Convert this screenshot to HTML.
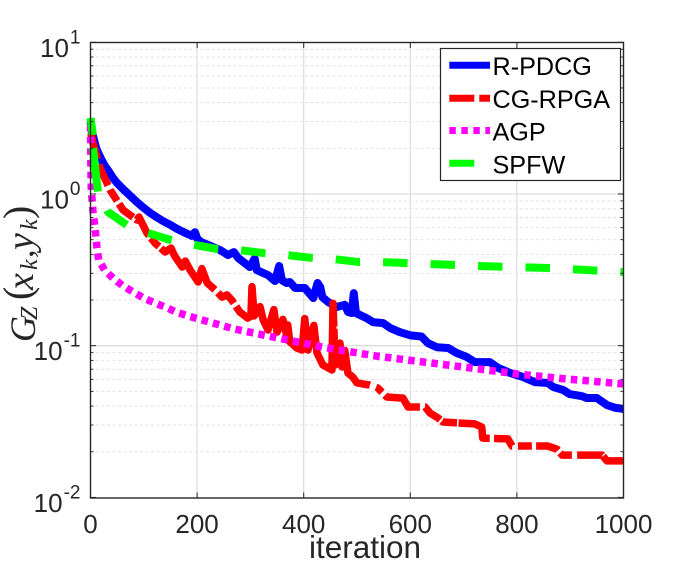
<!DOCTYPE html>
<html lang="en">
<head>
<meta charset="utf-8">
<title>Convergence chart</title>
<style>
html,body{margin:0;padding:0;background:#fff;width:689px;height:561px;overflow:hidden}
svg{display:block;font-family:"Liberation Sans",sans-serif}
</style>
</head>
<body>
<svg id="chart" width="689" height="561" viewBox="0 0 689 561" xmlns="http://www.w3.org/2000/svg">
  <rect x="0" y="0" width="689" height="561" fill="#fff"/>
  <g id="grid"></g>
  <g id="series"></g>
  <rect x="90.5" y="42.5" width="533" height="455.5" fill="none" stroke="#262626" stroke-width="1.4"/>
  <g id="ticks"></g>
  <g id="xlabels" font-size="26" fill="#262626" text-anchor="middle"></g>
  <g id="ylabels" font-size="26" fill="#262626" text-anchor="end"></g>
  <text x="365" y="558" font-size="31.5" fill="#262626" text-anchor="middle">iteration</text>
  <g transform="translate(33,345) rotate(-90)" fill="#262626" font-family="'Liberation Serif',serif" font-style="italic">
    <text x="3" y="2" font-size="36">G</text>
    <text x="25" y="4" font-size="24">Z</text>
    <text x="45" y="-2" font-size="40" font-style="normal">(</text>
    <text x="55" y="0" font-size="38">x</text>
    <text x="75" y="4" font-size="24">k</text>
    <text x="87" y="0" font-size="34" font-style="normal">,</text>
    <text x="95" y="0" font-size="38">y</text>
    <text x="115" y="4" font-size="24">k</text>
    <text x="126" y="-2" font-size="40" font-style="normal">)</text>
  </g>
  <g>
    <rect x="440.5" y="48.5" width="180" height="132" fill="#fff" stroke="#262626" stroke-width="1.2"/>
    <g>
      <line x1="449.3" y1="65.3" x2="490" y2="65.3" stroke="#0000ff" stroke-width="7"/>
      <text x="492.5" y="75" font-size="25.2" fill="#000">R-PDCG</text>
    </g>
    <g>
      <line x1="449.3" y1="98.3" x2="490" y2="98.3" stroke="#ff0000" stroke-width="7" stroke-dasharray="25 5"/>
      <text x="492.5" y="107.8" font-size="25.2" fill="#000">CG-RPGA</text>
    </g>
    <g>
      <line x1="449.3" y1="130.5" x2="490" y2="130.5" stroke="#ff00ff" stroke-width="7" stroke-dasharray="6.5 5.5"/>
      <text x="492.5" y="140.7" font-size="25.2" fill="#000">AGP</text>
    </g>
    <g>
      <line x1="449.3" y1="163.3" x2="490" y2="163.3" stroke="#00ff00" stroke-width="7" stroke-dasharray="25 23"/>
      <text x="492.5" y="173.3" font-size="25.2" fill="#000">SPFW</text>
    </g>
  </g>
</svg>
<script>
const xTickValues = [0, 200, 400, 600, 800, 1000];
const yDecadeExponents = [1, 0, -1, -2];
const yMinorMultipliers = [2, 3, 4, 5, 6, 7, 8, 9];

const bluePdcgIter = [0,3,10,15,20,27,35,42,50,62,75,87,100,112,125,137,150,162,175,190,196,200,207,225,243,258,269,277,299,308,312,333,346,354,359,368,374,384,402,418,426,431,435,446,462,477,483,490,494,498,518,530,549,562,580,600,621,633,650,671,687,706,721,749,765,787,811,834,858,868,887,899,922,931,950,969,984,1000];
const bluePdcgVal = [3.0,2.55,2.04,1.85,1.7,1.53,1.4,1.28,1.18,1.07,0.97,0.885,0.81,0.75,0.7,0.66,0.625,0.59,0.56,0.53,0.56,0.51,0.483,0.455,0.427,0.396,0.414,0.379,0.33,0.375,0.315,0.292,0.267,0.335,0.27,0.259,0.263,0.24,0.24,0.206,0.259,0.244,0.209,0.194,0.18,0.186,0.167,0.164,0.222,0.164,0.152,0.143,0.141,0.131,0.123,0.117,0.115,0.104,0.0976,0.0966,0.0895,0.0843,0.078,0.078,0.0713,0.0662,0.0622,0.0575,0.0568,0.0535,0.051,0.048,0.0465,0.0452,0.0452,0.0406,0.039,0.0383];

const redRpgaIter = [1,4,18,37,61,87,91,106,121,140,151,158,172,178,187,202,209,219,234,247,256,265,280,295,301,303,307,312,318,324,333,344,350,361,367,370,374,387,397,402,408,419,425,436,453,455,459,462,468,472,477,483,492,500,524,539,556,581,586,596,628,637,652,661,721,734,736,783,791,858,875,885,960,969,1000];
const redRpgaVal = [2.52,2.2,1.48,1.06,0.785,0.674,0.705,0.553,0.475,0.415,0.44,0.39,0.33,0.361,0.315,0.263,0.322,0.259,0.233,0.209,0.216,0.2,0.167,0.152,0.157,0.245,0.157,0.167,0.181,0.148,0.127,0.173,0.123,0.149,0.121,0.137,0.106,0.0966,0.0937,0.151,0.0937,0.136,0.0895,0.0746,0.0692,0.19,0.0746,0.096,0.104,0.0724,0.093,0.066,0.0622,0.0568,0.055,0.0526,0.0459,0.0452,0.0452,0.0394,0.0394,0.036,0.0334,0.0314,0.0305,0.0291,0.0246,0.0243,0.0218,0.0218,0.0208,0.019,0.019,0.0174,0.0174];

const magentaAgpIter = [0,0.5,1.5,3,4.7,7.9,10.3,12.2,15.4,26.6,42,61,80,100,121,140,160,183,269,359,444,536,624,714,802,894,1000];
const magentaAgpVal = [2.85,1.68,1.06,0.913,0.76,0.625,0.521,0.44,0.367,0.315,0.279,0.248,0.226,0.206,0.191,0.18,0.167,0.157,0.129,0.111,0.0966,0.0855,0.0781,0.0713,0.065,0.0603,0.056];

const greenSpfwIter = [0,4,5,14,33,68,108,151,187,237,279,325,367,416,455,504,545,731,862,1000];
const greenSpfwVal = [3.17,2.52,1.95,1.03,0.76,0.625,0.553,0.497,0.468,0.434,0.427,0.408,0.396,0.379,0.373,0.356,0.356,0.335,0.325,0.306];

const NS = 'http://www.w3.org/2000/svg';
const xScale = function (iter) { return 90.5 + iter * 0.533; };
const yScale = function (v) { return 194 - 151.7 * Math.log10(v); };

function pathFrom(xs, ys) {
  return xs.map(function (x, i) {
    return (i ? 'L' : 'M') + xScale(x).toFixed(2) + ' ' + yScale(ys[i]).toFixed(2);
  }).join(' ');
}

function makeLine(parent, x1, y1, x2, y2, stroke, width, dash) {
  const el = document.createElementNS(NS, 'line');
  el.setAttribute('x1', x1);
  el.setAttribute('y1', y1);
  el.setAttribute('x2', x2);
  el.setAttribute('y2', y2);
  el.setAttribute('stroke', stroke);
  el.setAttribute('stroke-width', width);
  if (dash) el.setAttribute('stroke-dasharray', dash);
  parent.appendChild(el);
  return el;
}

const gridG = document.getElementById('grid');
const ticksG = document.getElementById('ticks');
const xLabelG = document.getElementById('xlabels');
const yLabelG = document.getElementById('ylabels');

xTickValues.forEach(function (t) {
  const x = xScale(t);
  if (t > 0 && t < 1000) {
    const g = makeLine(gridG, x, 42.5, x, 498, '#dedede', 1.3);
    
    
  }
  const tb = makeLine(ticksG, x, 498, x, 492.5, '#262626', 1);
  
  
  const tt = makeLine(ticksG, x, 42.5, x, 48, '#262626', 1);
  
  
  const label = document.createElementNS(NS, 'text');
  
  
  label.setAttribute('x', x);
  label.setAttribute('y', 533);
  label.textContent = String(t);
  xLabelG.appendChild(label);
});

yDecadeExponents.forEach(function (e) {
  const y = yScale(Math.pow(10, e));
  if (e < 1 && e > -2) {
    const g = makeLine(gridG, 90.5, y, 623.5, y, '#dedede', 1.3);
    
    
  }
  const tl = makeLine(ticksG, 90.5, y, 96, y, '#262626', 1);
  
  
  const tr = makeLine(ticksG, 623.5, y, 618, y, '#262626', 1);
  
  

  const label = document.createElementNS(NS, 'text');
  
  
  label.setAttribute('x', 80.5);
  label.setAttribute('y', y + 14.5);
  const base = document.createElementNS(NS, 'tspan');
  base.textContent = '10';
  const sup = document.createElementNS(NS, 'tspan');
  sup.setAttribute('font-size', '19');
  sup.setAttribute('dy', '-13.5');
  sup.setAttribute('dx', '1');
  sup.textContent = String(e);
  label.appendChild(base);
  label.appendChild(sup);
  yLabelG.appendChild(label);

  if (e > -2) {
    yMinorMultipliers.forEach(function (m) {
      const my = yScale(m * Math.pow(10, e - 1));
      const mg = makeLine(gridG, 90.5, my, 623.5, my, '#e2e2e2', 1, '3 2.5');
      
      
      const ml = makeLine(ticksG, 90.5, my, 93.5, my, '#262626', 0.9);
      
      
      const mr = makeLine(ticksG, 623.5, my, 620.5, my, '#262626', 0.9);
      
      
    });
  }
});

const seriesG = document.getElementById('series');

function greenDash() {
  const parts = [17, 13, 44, 21];
  for (let i = 0; i < 16; i++) parts.push(24.5, 23);
  return parts.join(' ');
}

/* The red curve's dash gaps fall unevenly along its jagged path, so its
   dash pattern is measured from the path at the iterations where it breaks. */
function dashFromBreaks(path, breaks) {
  const total = path.getTotalLength();
  const lengthAtIter = function (iter) {
    const targetX = xScale(iter);
    let lo = 0;
    let hi = total;
    for (let k = 0; k < 30; k++) {
      const mid = (lo + hi) / 2;
      if (path.getPointAtLength(mid).x < targetX) lo = mid; else hi = mid;
    }
    return hi;
  };
  const parts = [];
  let cursor = 0;
  breaks.forEach(function (b) {
    const start = lengthAtIter(b[0]);
    const end = Math.max(start + 0.8, lengthAtIter(b[1]));
    if (start <= cursor) return;
    parts.push((start - cursor).toFixed(2), (end - start).toFixed(2));
    cursor = end;
  });
  parts.push((total - cursor + 5).toFixed(2), '0');
  return parts.join(' ');
}

const blueLine = document.createElementNS(NS, 'path');


blueLine.setAttribute('d', pathFrom(bluePdcgIter, bluePdcgVal));
blueLine.setAttribute('fill', 'none');
blueLine.setAttribute('stroke', '#0000ff');
blueLine.setAttribute('stroke-width', '8');
blueLine.setAttribute('stroke-linejoin', 'round');
seriesG.appendChild(blueLine);

const redLine = document.createElementNS(NS, 'path');


redLine.setAttribute('d', pathFrom(redRpgaIter, redRpgaVal));
redLine.setAttribute('fill', 'none');
redLine.setAttribute('stroke', '#ff0000');
redLine.setAttribute('stroke-width', '7.5');
redLine.setAttribute('stroke-linejoin', 'round');
seriesG.appendChild(redLine);
redLine.setAttribute('stroke-dasharray', dashFromBreaks(redLine, [[13,16],[33,36.5],[50,53.5],[80,85],[110,113.5],[128.5,132],[233.5,239],[269,273],[456.5,456.65],[524,535.6],[547,552.5],[618,627.5],[656,659],[687.6,690.4],[749,757],[791,802],[828,836],[877,881],[903,913],[960,961.5]]));

const magentaLine = document.createElementNS(NS, 'path');


magentaLine.setAttribute('d', pathFrom(magentaAgpIter, magentaAgpVal));
magentaLine.setAttribute('fill', 'none');
magentaLine.setAttribute('stroke', '#ff00ff');
magentaLine.setAttribute('stroke-width', '7.5');
magentaLine.setAttribute('stroke-dasharray', '6.5 5.2');
seriesG.appendChild(magentaLine);

const greenLine = document.createElementNS(NS, 'path');


greenLine.setAttribute('d', pathFrom(greenSpfwIter, greenSpfwVal));
greenLine.setAttribute('fill', 'none');
greenLine.setAttribute('stroke', '#00ff00');
greenLine.setAttribute('stroke-width', '8');
greenLine.setAttribute('stroke-dasharray', greenDash());
seriesG.appendChild(greenLine);
</script>
</body>
</html>
